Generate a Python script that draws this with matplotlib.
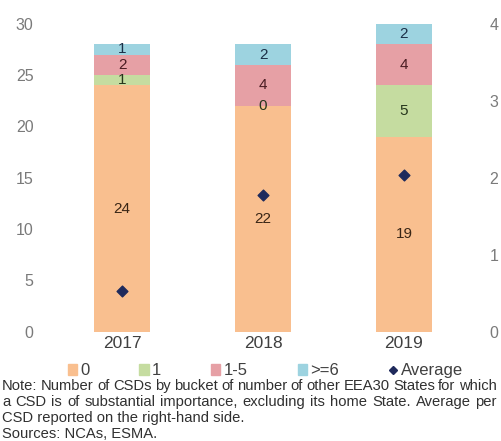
import matplotlib.pyplot as plt
import numpy as np
from matplotlib.patches import Patch
from matplotlib.lines import Line2D

plt.rcParams['font.family'] = ['Liberation Sans', 'DejaVu Sans']

# data
years = ['2017', '2018', '2019']
buckets = ['0', '1', '1-5', '>=6']
counts = {
    '0':   [24, 22, 19],
    '1':   [1, 0, 5],
    '1-5': [2, 4, 4],
    '>=6': [1, 2, 2],
}
average = [0.53, 1.78, 2.03]

colors = {'0': '#F9BF8F', '1': '#C5DCA0', '1-5': '#E6A0A5', '>=6': '#9DD3E0'}
label_colors = {'0': '#3a2616', '1': '#26361c', '1-5': '#4a1c22', '>=6': '#1b3048'}
avg_color = '#1F2A5C'

note_lines = [
    "Note: Number of CSDs by bucket of number of other EEA30 States for which",
    "a CSD is of substantial importance, excluding its home State. Average per",
    "CSD reported on the right-hand side.",
    "Sources: NCAs, ESMA.",
]

fig = plt.figure(figsize=(5.01, 4.41), dpi=100)
ax = fig.add_axes([0.103, 0.248, 0.844, 0.698])
ax2 = ax.twinx()

x = np.arange(len(years))
bottom = np.zeros(len(years))
for b in buckets:
    vals = np.array(counts[b], dtype=float)
    bars = ax.bar(x, vals, 0.4, bottom=bottom, color=colors[b], zorder=2)
    ax.bar_label(bars, labels=[str(v) for v in counts[b]], label_type='center',
                 fontsize=11, color=label_colors[b])
    bottom += vals

ax2.scatter(x, average, marker='D', s=30, color=avg_color, zorder=5)

ax.set_xlim(-0.5, 2.5)
ax.set_ylim(0, 30)
ax2.set_ylim(0, 4)
ax.set_yticks(range(0, 31, 5))
ax2.set_yticks(range(0, 5))
ax.set_xticks(x)
ax.set_xticklabels(years)

for a in (ax, ax2):
    for s in a.spines.values():
        s.set_visible(False)
    a.tick_params(length=0)
ax.tick_params(axis='y', labelcolor='#7a7a7a', labelsize=11.5, pad=13)
ax2.tick_params(axis='y', labelcolor='#7a7a7a', labelsize=11.5, pad=11)
ax.tick_params(axis='x', labelcolor='#404040', labelsize=12.5, pad=3)

handles = [Patch(color=colors[b], label=b) for b in buckets]
handles.append(Line2D([], [], marker='D', ls='', color=avg_color, markersize=4, label='Average'))
fig.legend(handles=handles, loc='center', bbox_to_anchor=(0.53, 0.159), ncol=5,
           frameon=False, fontsize=12, handlelength=0.55, handleheight=0.55,
           handletextpad=0.2, columnspacing=3.0, labelcolor='#404040')

# justified note text
fig.canvas.draw()
renderer = fig.canvas.get_renderer()
W, H = fig.bbox.width, fig.bbox.height
x0, x1 = 2, 497
ys = [386, 402, 418, 433.5]
for i, (line, yp) in enumerate(zip(note_lines, ys)):
    yf = 1 - yp / H
    if i < 2:
        words = line.split()
        texts = [fig.text(0, yf, w, fontsize=10.6, color='#303030', va='center') for w in words]
        widths = [t.get_window_extent(renderer).width for t in texts]
        gap = (x1 - x0 - sum(widths)) / (len(words) - 1)
        pos = x0
        for t, w in zip(texts, widths):
            t.set_x(pos / W)
            pos += w + gap
    else:
        fig.text(x0 / W, yf, line, fontsize=10.6, color='#303030', va='center')

fig.savefig('out.png', dpi=100)
